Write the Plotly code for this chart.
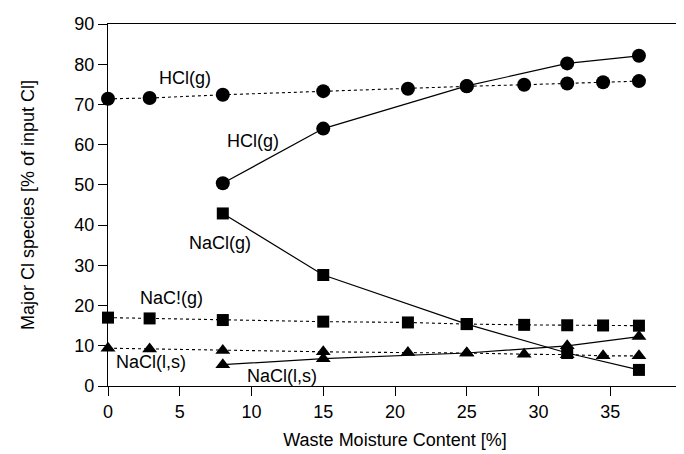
import plotly.graph_objects as go

# Equilibrium (dotted) series
x_eq = [0, 2.9, 8, 15, 20.9, 25, 29, 32, 34.5, 37]
hcl_eq = [71.4, 71.6, 72.4, 73.3, 73.9, 74.5, 74.9, 75.2, 75.5, 75.8]
nacl_g_eq = [17.0, 16.8, 16.4, 16.0, 15.8, 15.4, 15.2, 15.1, 15.05, 15.0]
nacl_ls_eq = [9.4, 9.2, 8.8, 8.5, 8.3, 8.2, 7.9, 7.8, 7.5, 7.5]

# Solid series
x_sol = [8, 15, 25, 32, 37]
hcl_sol = [50.4, 64.0, 74.6, 80.2, 82.1]
nacl_g_sol = [42.9, 27.6, 15.4, 8.2, 4.0]
nacl_ls_sol = [5.3, 6.8, 8.2, 10.0, 12.3]

x_ticks = [0, 5, 10, 15, 20, 25, 30, 35, 40]
y_ticks = [0, 10, 20, 30, 40, 50, 60, 70, 80, 90]

labels = ["HCl(g)", "HCl(g)", "NaCl(g)", "NaC!(g)", "NaCl(l,s)", "NaCl(l,s)"]
label_x = [5.4, 10.1, 7.8, 4.4, 3.0, 12.1]
label_y = [76.6, 61.0, 35.6, 22.0, 5.9, 2.4]

FONT = "Liberation Sans, Arial, sans-serif"

fig = go.Figure()

def add(x, y, symbol, size, dash):
    fig.add_trace(go.Scatter(
        x=x, y=y, mode="lines+markers",
        line=dict(color="black", width=1.2 if dash == "solid" else 1.1, dash=dash),
        marker=dict(symbol=symbol, size=size, color="black"),
        cliponaxis=False, showlegend=False))

add(x_eq, hcl_eq, "circle", 14, "dot")
add(x_eq, nacl_g_eq, "square", 12, "dot")
add(x_eq, nacl_ls_eq, "triangle-up", 13, "dot")
add(x_sol, hcl_sol, "circle", 14, "solid")
add(x_sol, nacl_g_sol, "square", 12, "solid")
add(x_sol, nacl_ls_sol, "triangle-up", 13, "solid")

for t, lx, ly in zip(labels, label_x, label_y):
    fig.add_annotation(x=lx, y=ly, text=t, showarrow=False,
                       font=dict(family=FONT, size=18, color="black"))

fig.update_layout(
    width=684, height=454,
    margin=dict(l=100, r=10, t=16, b=76),
    paper_bgcolor="white", plot_bgcolor="white",
    font=dict(family=FONT, size=18, color="black"),
    xaxis=dict(range=[0, 40], tickvals=x_ticks, ticks="outside", ticklen=9,
               tickcolor="black", showline=True, linecolor="black", linewidth=1.2,
               mirror=True, showgrid=False, zeroline=False, automargin=False,
               title=dict(text="Waste Moisture Content [%]", standoff=12,
                          font=dict(size=18))),
    yaxis=dict(range=[0, 90], tickvals=y_ticks, ticks="outside", ticklen=9,
               tickcolor="black", showline=True, linecolor="black", linewidth=1.2,
               mirror=True, showgrid=False, zeroline=False, automargin=False,
               title=dict(text="Major Cl species [% of input Cl]", standoff=34,
                          font=dict(size=18))),
)

fig.write_html("out.html")
